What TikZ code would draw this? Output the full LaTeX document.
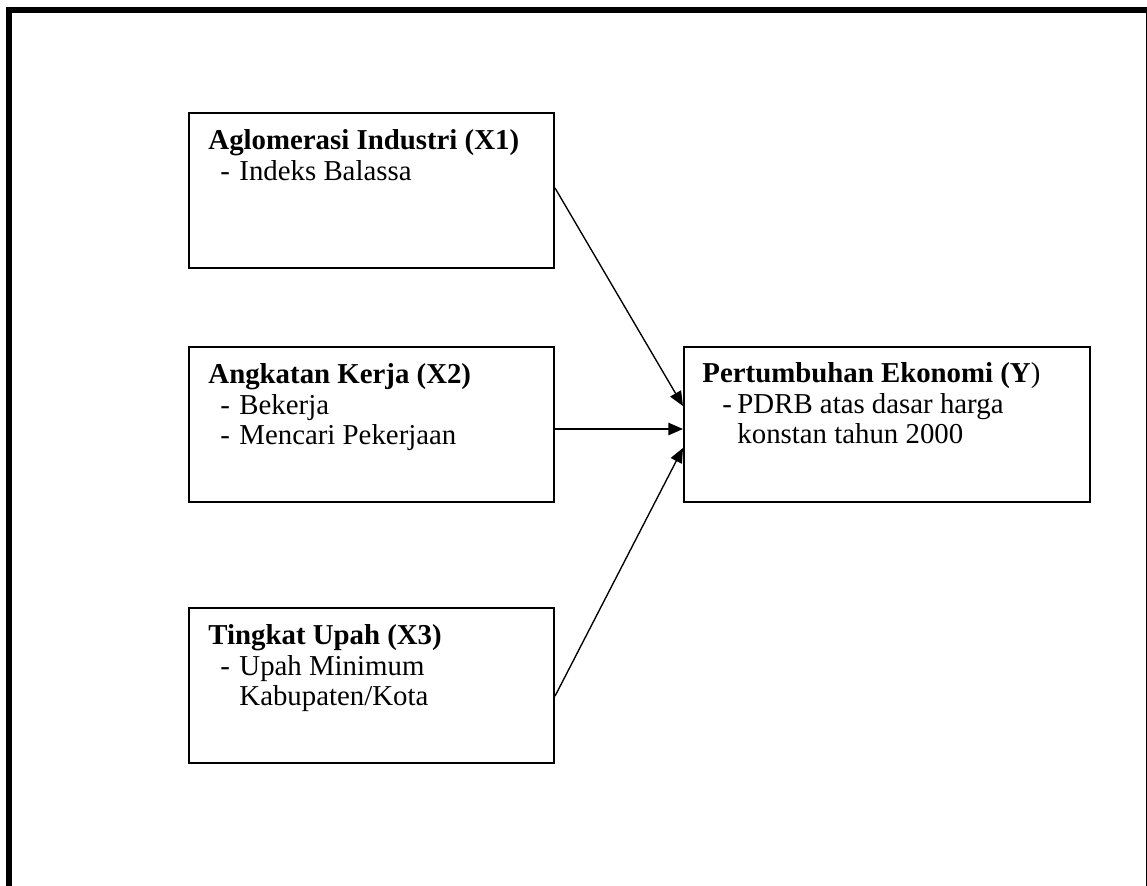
\documentclass[tikz,border=0pt]{standalone}
\usepackage{fontspec}
\setmainfont{Liberation Serif}
\usetikzlibrary{arrows.meta}
\tikzset{%
  box/.style   = {shape=rectangle, draw, line width=0.9pt, inner sep=0pt,%
                  anchor=north west, minimum width=365*0.444pt,%
                  minimum height=155*0.444pt},%
  boxy/.style  = {box, minimum width=406*0.444pt},%
  txt/.style   = {anchor=base west, inner sep=0pt,%
                  font=\fontsize{12.8}{13.5}\selectfont},%
  arr/.style   = {-{Triangle[length=6.5pt,width=5.5pt]}, line width=0.6pt}%
}
\newcommand{\itemx}[1]{\hspace*{12\pxu}\makebox[19\pxu][l]{-}#1}
\newcommand{\contx}[1]{\hspace*{31\pxu}#1}
\newcommand{\itemy}[1]{\hspace*{20\pxu}\makebox[15\pxu][l]{-}#1}
\newcommand{\conty}[1]{\hspace*{35\pxu}#1}
\newlength{\pxu}\setlength{\pxu}{0.444pt}

\begin{document}
\begin{tikzpicture}[x=0.444pt,y=-0.444pt]
	\useasboundingbox (0,0) rectangle (1147,886);
	% outer frame
	\draw [line width=2.7pt] (9,900) -- (9,10) -- (1149,10) -- (1149,900);
	% boxes
	\node [box] (x1) at (188,112) {};
	\node [box] (x2) at (188,346) {};
	\node [box] (x3) at (188,607) {};
	\node [boxy] (y) at (683,346) {};
	% texts
	\node [txt] (t1) at ([shift={(20,38)}]x1.north west)
		{\begin{tabular}[t]{@{}l@{}}
			\textbf{Aglomerasi Industri (X1)}\\
			\itemx{Indeks Balassa}
		\end{tabular}};
	\node [txt] (t2) at ([shift={(20,38)}]x2.north west)
		{\begin{tabular}[t]{@{}l@{}}
			\textbf{Angkatan Kerja (X2)}\\
			\itemx{Bekerja}\\
			\itemx{Mencari Pekerjaan}
		\end{tabular}};
	\node [txt] (t3) at ([shift={(20,38)}]x3.north west)
		{\begin{tabular}[t]{@{}l@{}}
			\textbf{Tingkat Upah (X3)}\\
			\itemx{Upah Minimum}\\
			\contx{Kabupaten/Kota}
		\end{tabular}};
	\node [txt] (ty) at ([shift={(19,37)}]y.north west)
		{\begin{tabular}[t]{@{}l@{}}
			\textbf{Pertumbuhan Ekonomi (Y}) \\
			\itemy{PDRB atas dasar harga}\\
			\conty{konstan tahun 2000}
		\end{tabular}};
	% arrows
	\draw [arr] ([yshift=1.1pt]x1.east) -- ([yshift=8.2pt]y.west);
	\draw [arr] ([yshift=-2pt]x2.east) -- ([yshift=-2pt]y.west);
	\draw [arr] ([yshift=-4.7pt]x3.east) -- ([yshift=-10.4pt]y.west);
\end{tikzpicture}
\end{document}
